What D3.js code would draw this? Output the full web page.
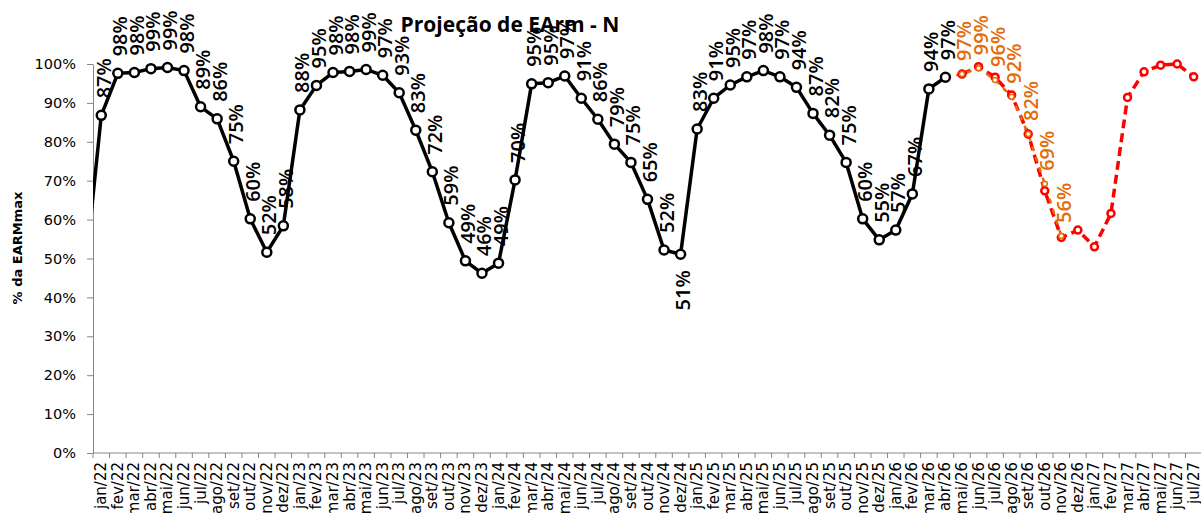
<!DOCTYPE html>
<html><head><meta charset="utf-8">
<script src="https://cdn.jsdelivr.net/npm/d3@7"></script>
<style>html,body{margin:0;padding:0;background:#fff;overflow:hidden}</style>
</head><body>
<svg id="c" width="1201" height="513"></svg>
<script>
const categories = ["jan/22","fev/22","mar/22","abr/22","mai/22","jun/22","jul/22","ago/22","set/22","out/22","nov/22","dez/22",
"jan/23","fev/23","mar/23","abr/23","mai/23","jun/23","jul/23","ago/23","set/23","out/23","nov/23","dez/23",
"jan/24","fev/24","mar/24","abr/24","mai/24","jun/24","jul/24","ago/24","set/24","out/24","nov/24","dez/24",
"jan/25","fev/25","mar/25","abr/25","mai/25","jun/25","jul/25","ago/25","set/25","out/25","nov/25","dez/25",
"jan/26","fev/26","mar/26","abr/26","mai/26","jun/26","jul/26","ago/26","set/26","out/26","nov/26","dez/26",
"jan/27","fev/27","mar/27","abr/27","mai/27","jun/27","jul/27"];

// Historical (dez/21 .. abr/26); dez/21 lies before the axis start and is clipped
const histPrevMonth = "dez/21";
const histPrevValue = 45.3;
const histValues = [86.8,97.6,97.8,98.8,99.1,98.3,89.0,85.9,75.0,60.2,51.6,58.4,
88.2,94.5,97.8,98.1,98.6,97.1,92.6,83.0,72.3,59.2,49.4,46.2,
48.8,70.2,94.9,95.2,96.9,91.2,85.8,79.4,74.7,65.2,52.2,51.1,
83.3,91.2,94.6,96.7,98.3,96.7,94.0,87.3,81.7,74.7,60.2,54.8,
57.3,66.6,93.6,96.6];
const histBelowLabels = ["dez/24"];

// Previous projection (orange), abr/26 .. nov/26
const orangeStart = "abr/26";
const orangeValues = [96.6,97.4,98.9,95.9,91.6,82.0,69.2,55.8];

// Current projection (red), mai/26 .. jul/27
const redStart = "mai/26";
const redValues = [97.4,99.3,96.6,92.0,82.0,67.4,55.4,57.3,53.0,61.6,91.4,98.0,99.7,100.0,96.7];

const yTicks = [0,10,20,30,40,50,60,70,80,90,100];

const svg = d3.select("#c");
const L = 93, R = 1202, T = 64, B = 453;
const x = d3.scaleLinear().domain([-0.5, categories.length - 0.5]).range([L, R]);
const y = d3.scaleLinear().domain([0, 100]).range([B, T]);

const idx = c => categories.indexOf(c);
const hist = [{i: -1, v: histPrevValue, c: histPrevMonth}].concat(histValues.map((v, k) => ({i: k, v, c: categories[k]})));
const orange = orangeValues.map((v, k) => ({i: idx(orangeStart) + k, v, c: categories[idx(orangeStart) + k]}));
const red = redValues.map((v, k) => ({i: idx(redStart) + k, v, c: categories[idx(redStart) + k]}));

svg.append("defs").append("clipPath").attr("id", "clip")
  .append("rect").attr("x", L).attr("y", 0).attr("width", R - L).attr("height", B);

// Title
svg.append("text").attr("x", 510).attr("y", 32).attr("text-anchor", "middle")
  .attr("font-family", "Open Sans").attr("font-weight", "bold").attr("font-size", 21)
  .attr("fill", "#000").text("Projeção de EArm - N");

// Y axis
const yAxis = svg.append("g").attr("transform", `translate(${L},0)`)
  .call(d3.axisLeft(y).tickValues(yTicks).tickFormat(d => d + "%").tickSize(6).tickPadding(11).tickSizeOuter(0));
yAxis.selectAll("path,line").attr("stroke", "#868686");
yAxis.selectAll("text").attr("font-family", "DejaVu Sans").attr("font-size", 14.5).attr("fill", "#000");

svg.append("text").attr("transform", `translate(17,248) rotate(-90)`).attr("text-anchor", "middle")
  .attr("dominant-baseline", "central")
  .attr("font-family", "DejaVu Sans").attr("font-weight", "bold").attr("font-size", 13).text("% da EARMmax");

// X axis
const gx = svg.append("g");
gx.append("line").attr("x1", L).attr("x2", R).attr("y1", B).attr("y2", B).attr("stroke", "#868686");
gx.selectAll("line.t").data(d3.range(categories.length + 1)).join("line").attr("class", "t")
  .attr("x1", d => x(d - 0.5)).attr("x2", d => x(d - 0.5)).attr("y1", B).attr("y2", B + 5).attr("stroke", "#868686");
gx.selectAll("text").data(categories).join("text")
  .attr("transform", (d, i) => `translate(${x(i)},${B + 9}) rotate(-90)`)
  .attr("text-anchor", "end").attr("dominant-baseline", "central")
  .attr("font-family", "DejaVu Sans").attr("font-size", 15).attr("fill", "#000").text(d => d);

const line = d3.line().x(d => x(d.i)).y(d => y(d.v));
const plot = svg.append("g").attr("clip-path", "url(#clip)");

// Red projection
plot.append("path").datum(red).attr("d", line).attr("fill", "none").attr("stroke", "#FF0000")
  .attr("stroke-width", 3.5).attr("stroke-dasharray", "9,5");
svg.selectAll("circle.r").data(red).join("circle").attr("class", "r")
  .attr("cx", d => x(d.i)).attr("cy", d => y(d.v)).attr("r", 3.5)
  .attr("fill", "#fff").attr("stroke", "#FF0000").attr("stroke-width", 2.5);

// Orange projection
plot.append("path").datum(orange).attr("d", line).attr("fill", "none").attr("stroke", "#E46C0A")
  .attr("stroke-width", 2.5).attr("stroke-dasharray", "5,6");
svg.selectAll("circle.o").data(orange.slice(1)).join("circle").attr("class", "o")
  .attr("cx", d => x(d.i)).attr("cy", d => y(d.v)).attr("r", 2.5)
  .attr("fill", "#fff").attr("stroke", "#E46C0A").attr("stroke-width", 1.5);

// Historical
plot.append("path").datum(hist).attr("d", line).attr("fill", "none").attr("stroke", "#000")
  .attr("stroke-width", 3.5).attr("stroke-linejoin", "round");
svg.selectAll("circle.h").data(hist.filter(d => d.i >= 0)).join("circle").attr("class", "h")
  .attr("cx", d => x(d.i)).attr("cy", d => y(d.v)).attr("r", 4.5)
  .attr("fill", "#fff").attr("stroke", "#000").attr("stroke-width", 2.5);

// Labels
const fmt = d => Math.round(d.v) + "%";
svg.selectAll("text.hl").data(hist.filter(d => d.i >= 0)).join("text").attr("class", "hl")
  .attr("transform", d => {
    const below = histBelowLabels.includes(d.c);
    return `translate(${x(d.i) + 2},${y(d.v) + (below ? 16 : -17)}) rotate(-90)`;
  })
  .attr("text-anchor", d => histBelowLabels.includes(d.c) ? "end" : "start")
  .attr("dominant-baseline", "central")
  .attr("font-family", "Open Sans").attr("font-weight", 600).attr("font-size", 20).attr("fill", "#000").text(fmt);

svg.selectAll("text.ol").data(orange.slice(1)).join("text").attr("class", "ol")
  .attr("transform", d => `translate(${x(d.i) + 2},${y(d.v) - 13}) rotate(-90)`)
  .attr("text-anchor", "start").attr("dominant-baseline", "central")
  .attr("font-family", "Open Sans").attr("font-weight", 600).attr("font-size", 20).attr("fill", "#E46C0A").text(fmt);
</script>
</body></html>
